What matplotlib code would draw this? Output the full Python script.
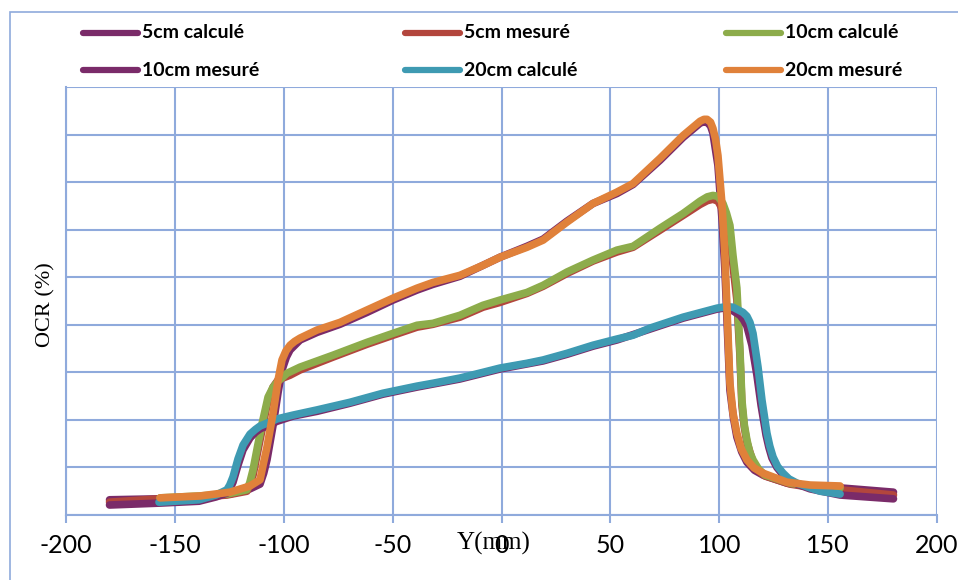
import matplotlib
matplotlib.use("Agg")
import matplotlib.pyplot as plt
from matplotlib.lines import Line2D
from matplotlib.patches import Rectangle

plt.rcParams["axes.unicode_minus"] = False

# ---- data ----
# high curve, 20cm mesure (orange)
x_20m = [-156.8, -138.5, -124.7, -115.5, -110.9, -109.5, -107.7, -104.9, -102.6, -100.8,
         -99.0, -97.1, -95.0, -92.5, -84.7, -74.2, -61.8, -49.8, -38.8, -31.5,
         -19.1, -8.5, -0.7, 11.7, 19.1, 30.1, 42.0, 53.0, 60.4, 72.8,
         83.4, 91.2, 93.0, 94.4, 96.0, 97.1, 98.3, 99.4, 101.3, 102.6,
         104.9, 106.3, 108.1, 110.0, 112.7, 116.0, 120.1, 131.1, 141.7, 155.5]
y_20m = [3.6, 4.0, 4.8, 6.1, 7.4, 10.5, 14.3, 21.4, 28.4, 32.6,
         34.5, 35.7, 36.5, 37.2, 38.9, 40.5, 43.1, 45.6, 47.7, 48.9,
         50.4, 52.5, 54.2, 56.3, 57.8, 61.6, 65.5, 67.9, 69.7, 75.0,
         79.8, 82.8, 83.2, 83.2, 82.6, 81.3, 79.0, 75.6, 65.1, 54.6,
         27.7, 21.5, 17.2, 14.0, 11.6, 9.9, 8.8, 6.9, 6.3, 6.1]

# companion of the high curve, 5cm calcule (purple)
x_5c = [-180, -157, -138.5, -124.7, -115.5, -110.9, -109.2, -107.7, -104.9, -102.6,
        -100.8, -98.8, -97.1, -92.5, -84.7, -74.2, -61.8, -49.8, -38.8, -31.5,
        -19.1, -8.5, -0.7, 11.7, 19.1, 30.1, 42.0, 53.0, 60.4, 72.8,
        83.4, 91.2, 93.0, 94.4, 96.0, 97.1, 99.4, 101.3, 102.6, 104.9,
        106.5, 108.1, 110.3, 112.7, 116.2, 120.1, 131.1, 141.7, 155.5, 180]
y_5c = [3.2, 3.4, 3.8, 4.4, 5.5, 6.5, 8.8, 11.6, 18.9, 25.8,
        30.5, 33.2, 34.7, 36.8, 38.4, 40.1, 42.6, 45.2, 47.3, 48.5,
        50.2, 52.5, 54.2, 56.5, 58.0, 61.8, 65.5, 67.6, 69.5, 74.6,
        79.4, 82.4, 82.7, 82.6, 81.8, 80.3, 73.5, 62.0, 51.5, 26.3,
        20.5, 16.4, 13.3, 11.1, 9.4, 8.4, 6.7, 6.1, 5.7, 4.8]

# middle curve, 10cm calcule (green)
x_10c = [-156.8, -138.5, -126.1, -116.9, -115.6, -114.1, -112.0, -109.9, -107.2, -105.0,
         -103.1, -98.5, -92.5, -77.4, -61.8, -49.8, -38.8, -31.5, -19.1, -8.5,
         -0.7, 11.7, 19.1, 30.1, 42.0, 53.0, 60.4, 72.8, 83.4, 91.2,
         94.5, 97.1, 99.4, 101.7, 103.3, 104.9, 106.3, 108.1, 109.5, 110.4,
         111.5, 112.7, 114.0, 115.5, 118.0, 121.0, 132.5, 143.8, 155.5]
y_10c = [3.6, 4.0, 4.4, 5.3, 6.8, 9.5, 14.5, 19.3, 24.8, 26.8,
         27.9, 29.8, 31.1, 33.6, 36.3, 38.2, 39.9, 40.3, 42.0, 44.1,
         45.2, 46.8, 48.3, 51.1, 53.6, 55.7, 56.5, 60.3, 63.4, 66.0,
         66.9, 67.2, 67.0, 65.5, 63.5, 60.9, 54.6, 47.7, 34.7, 24.2,
         19.0, 15.8, 13.2, 11.6, 9.7, 8.4, 6.7, 5.9, 5.7]

# companion of the middle curve, 5cm mesure (red)
x_5m = [-180, -157, -138.5, -126.1, -116.9, -115.5, -114.1, -110.9, -107.7, -104.9,
        -102.6, -97.1, -92.5, -77.4, -61.8, -49.8, -38.8, -31.5, -19.1, -8.5,
        -0.7, 11.7, 19.1, 30.1, 42.0, 53.0, 60.4, 72.8, 83.4, 91.2,
        94.5, 97.1, 99.4, 101.7, 103.3, 104.9, 106.3, 108.1, 109.5, 110.4,
        111.5, 112.7, 115.5, 118.0, 121.0, 132.5, 143.8, 155.5, 180]
y_5m = [2.7, 3.4, 3.8, 4.2, 5.0, 6.4, 8.4, 15.8, 23.1, 26.9,
        28.4, 29.4, 30.5, 33.2, 35.9, 37.8, 39.5, 40.1, 41.6, 43.7,
        44.7, 46.6, 48.1, 50.8, 53.4, 55.3, 56.3, 59.9, 63.0, 65.3,
        66.1, 66.4, 66.0, 64.1, 61.8, 58.8, 52.5, 45.2, 33.6, 23.1,
        18.5, 15.3, 11.1, 9.3, 8.2, 6.5, 5.7, 5.3, 4.2]

# low wide curve, 20cm calcule (teal)
x_20c = [-157.3, -138.9, -131.1, -126.1, -124.8, -123.3, -121.0, -118.7, -115.5, -113.0,
         -110.9, -103.1, -95.8, -84.7, -69.6, -54.5, -38.8, -31.5, -19.1, -8.5,
         -0.7, 11.7, 19.1, 30.1, 42.0, 53.0, 60.4, 68.2, 83.4, 99.0,
         103.0, 106.3, 110.9, 112.7, 114.1, 115.5, 117.8, 119.6, 121.9, 123.2,
         124.7, 126.8, 129.3, 132.0, 135.7, 141.7, 146.3, 155.5]
y_20c = [2.7, 3.2, 4.2, 5.3, 6.3, 8.0, 11.8, 14.7, 17.0, 18.0,
         18.7, 20.2, 21.0, 22.1, 23.7, 25.6, 27.1, 27.7, 28.8, 30.0,
         30.9, 31.9, 32.6, 34.0, 35.7, 37.0, 37.8, 39.3, 41.6, 43.5,
         43.8, 43.7, 42.6, 41.8, 40.5, 38.2, 31.1, 24.2, 17.2, 14.5,
         12.2, 10.2, 8.8, 7.6, 6.7, 5.7, 5.0, 4.4]

# companion of the low curve, 10cm mesure (purple)
x_10m = [-180, -157, -138.9, -131.1, -126.1, -124.6, -123.3, -121.0, -118.7, -115.5,
         -113.0, -110.9, -103.1, -95.8, -84.7, -69.6, -54.5, -38.8, -19.1, -0.7,
         19.1, 30.1, 42.0, 53.0, 68.2, 83.4, 99.0, 102.0, 105.0, 109.5,
         111.2, 112.7, 115.0, 117.3, 119.2, 121.5, 122.8, 124.2, 126.5, 129.0,
         132.0, 135.7, 141.7, 155.5, 180]
y_10m = [2.1, 2.5, 2.9, 3.8, 4.6, 5.6, 6.9, 10.5, 13.7, 16.2,
         17.4, 18.1, 19.7, 20.8, 21.8, 23.5, 25.4, 26.9, 28.6, 30.7,
         32.4, 33.8, 35.5, 36.8, 39.1, 41.4, 43.3, 43.5, 43.3, 42.0,
         41.0, 39.7, 35.7, 29.4, 23.1, 16.8, 14.2, 12.0, 10.0, 8.6,
         7.4, 6.5, 5.5, 4.2, 3.4]

series = [
    ("5cm calculé", x_5c, y_5c, "#7A2B69"),
    ("5cm mesuré", x_5m, y_5m, "#B3463D"),
    ("10cm calculé", x_10c, y_10c, "#8DAC4B"),
    ("10cm mesuré", x_10m, y_10m, "#7A2B69"),
    ("20cm calculé", x_20c, y_20c, "#3E9AB2"),
    ("20cm mesuré", x_20m, y_20m, "#E0813A"),
]

xticks = [-200, -150, -100, -50, 0, 50, 100, 150, 200]
xtick_labels = ["-200", "-150", "-100", "-50", "0", "50", "100", "150", "200"]

grid_color = "#8FAADC"
W, H = 958, 580

fig = plt.figure(figsize=(W / 100, H / 100), dpi=100)
ax = fig.add_axes([66 / W, 65 / H, (937 - 66) / W, (515 - 87) / H])

for label, xs, ys, color in series:
    ax.plot(xs, ys, color=color, lw=5.5, solid_capstyle="round",
            solid_joinstyle="round", label=label)

ax.set_xlim(-200, 200)
ax.set_ylim(0, 90)
ax.set_xticks(xticks)
ax.set_xticklabels(xtick_labels, family="Lato", fontsize=18)
ax.set_yticks(range(0, 91, 10))
ax.set_yticklabels([])
ax.tick_params(axis="y", length=0)
ax.tick_params(axis="x", direction="out", length=6, width=1.5, color=grid_color, pad=8)
ax.grid(True, color=grid_color, lw=1.5)
ax.set_axisbelow(True)
for side in ("top", "right"):
    ax.spines[side].set_visible(False)
for side in ("left", "bottom"):
    ax.spines[side].set_color(grid_color)
    ax.spines[side].set_linewidth(1.5)

fig.text(494 / W, 1 - 543 / H, "Y(mm)", family="Liberation Serif", fontsize=18,
         ha="center", va="center")
fig.text(46 / W, 1 - 305 / H, "OCR (%)", family="Liberation Serif", fontsize=16,
         rotation=90, ha="center", va="center")

# chart frame
fig.add_artist(Rectangle((10 / W, -0.05), (960 - 10) / W, 1.05 - 12 / H,
                         transform=fig.transFigure, fill=False,
                         edgecolor=grid_color, lw=1.2))

# legend laid out as in the reference (3 columns x 2 rows)
col_x = [83, 405, 726]
row_y = [33, 70]
for i, (label, xs, ys, color) in enumerate(series):
    cx = col_x[i % 3]
    cy = 1 - row_y[i // 3] / H
    fig.add_artist(Line2D([cx / W, (cx + 55) / W], [cy, cy], transform=fig.transFigure,
                          color=color, lw=4.5, solid_capstyle="round"))
    fig.text((cx + 59) / W, cy, label, family="Lato", fontweight="bold",
             fontsize=14, ha="left", va="center")

fig.savefig("out.png", dpi=100)
